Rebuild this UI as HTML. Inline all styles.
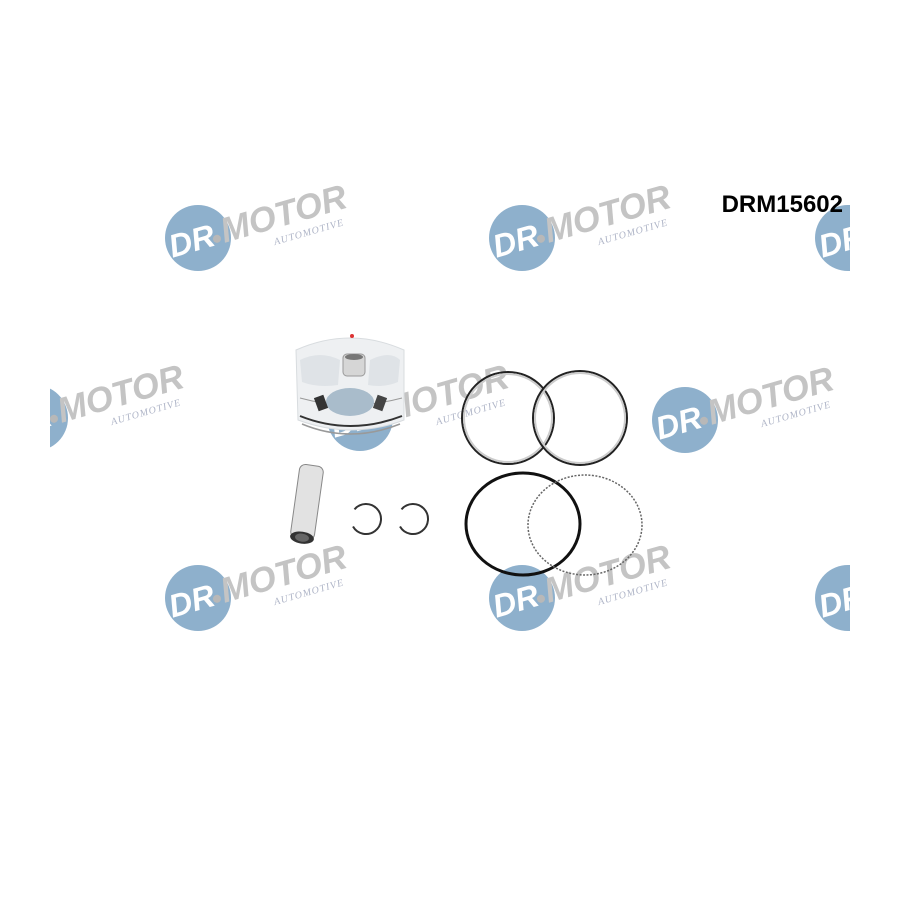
<!DOCTYPE html>
<html><head><meta charset="utf-8"><style>
html,body{margin:0;padding:0;background:#fff;width:900px;height:900px;overflow:hidden}
</style></head><body>
<svg width="900" height="900" viewBox="0 0 900 900" xmlns="http://www.w3.org/2000/svg">
<defs>
<clipPath id="c"><rect x="50" y="170" width="800" height="470"/></clipPath>
<g id="logo">
  <circle cx="0" cy="0" r="33" fill="#8eb0cc"/>
  <g transform="rotate(-16)">
    <text x="-30" y="12" font-family="Liberation Sans, sans-serif" font-weight="bold" font-style="italic" font-size="32" fill="#fff">DR</text>
    <circle cx="18" cy="6" r="4" fill="#b8b8b8"/>
    <text x="24" y="12" font-family="Liberation Sans, sans-serif" font-weight="bold" font-style="italic" font-size="35" fill="#c4c4c4">MOTOR</text>
    <text x="72" y="28" font-family="Liberation Serif, serif" font-style="italic" font-size="10" fill="#b0b6c8" letter-spacing="1">AUTOMOTIVE</text>
  </g>
</g>
</defs>
<g clip-path="url(#c)">
  <use href="#logo" x="198" y="238"/>
  <use href="#logo" x="522" y="238"/>
  <use href="#logo" x="848" y="238"/>
  <use href="#logo" x="35" y="418"/>
  <use href="#logo" x="360" y="418"/>
  <use href="#logo" x="685" y="420"/>
  <use href="#logo" x="198" y="598"/>
  <use href="#logo" x="522" y="598"/>
  <use href="#logo" x="848" y="598"/>
</g>
<text x="843" y="212" text-anchor="end" font-family="Liberation Sans, sans-serif" font-weight="bold" font-size="24" fill="#000">DRM15602</text>
<!-- piston -->
<g>
  <path d="M296 350 Q350 326 404 350 L404 420 Q352 440 298 420 Z" fill="#eef0f2" stroke="#d8dcdf"/>
  <path d="M300 360 Q320 350 340 360 L338 385 Q318 388 302 382 Z" fill="#dfe3e7"/>
  <path d="M370 360 Q390 350 400 360 L398 382 Q384 388 368 385 Z" fill="#dfe3e7"/>
  <path d="M300 398 Q350 412 402 398" fill="none" stroke="#999" stroke-width="1"/>
  <ellipse cx="350" cy="402" rx="24" ry="14" fill="#a9bccb"/>
  <rect x="316" y="396" width="10" height="14" fill="#333" transform="rotate(-20 321 403)"/>
  <rect x="375" y="396" width="10" height="14" fill="#444" transform="rotate(20 380 403)"/>
  <path d="M300 416 Q350 436 402 416" fill="none" stroke="#333" stroke-width="2"/>
  <path d="M302 424 Q350 444 400 424" fill="none" stroke="#999" stroke-width="1.5"/>
  <rect x="343" y="354" width="22" height="22" rx="4" fill="#d6d6d6" stroke="#999"/>
  <ellipse cx="354" cy="357" rx="9" ry="3" fill="#777"/>
  <circle cx="352" cy="336" r="2" fill="#d33"/>
</g>
<!-- pin -->
<g transform="rotate(8 307 502)">
  <rect x="295" y="465" width="24" height="74" rx="6" fill="#e2e2e2" stroke="#888"/>
  <ellipse cx="307" cy="538" rx="12" ry="6" fill="#333"/>
  <ellipse cx="307" cy="538" rx="7" ry="4" fill="#666"/>
</g>
<!-- circlips -->
<path d="M354.5 509.4 A15 15 0 1 1 353 526.5" fill="none" stroke="#333" stroke-width="2"/>
<path d="M401.5 509.4 A15 15 0 1 1 400 526.5" fill="none" stroke="#333" stroke-width="2"/>
<!-- rings -->
<circle cx="508" cy="418" r="46" fill="none" stroke="#222" stroke-width="2"/>
<circle cx="508" cy="418" r="44" fill="none" stroke="#ccc" stroke-width="2"/>
<circle cx="580" cy="418" r="47" fill="none" stroke="#222" stroke-width="2"/>
<circle cx="580" cy="418" r="45" fill="none" stroke="#ccc" stroke-width="2"/>
<ellipse cx="523" cy="524" rx="57" ry="51" fill="none" stroke="#111" stroke-width="3"/>
<ellipse cx="585" cy="525" rx="57" ry="50" fill="none" stroke="#666" stroke-width="1.5" stroke-dasharray="2 1.5"/>
</svg>
</body></html>
